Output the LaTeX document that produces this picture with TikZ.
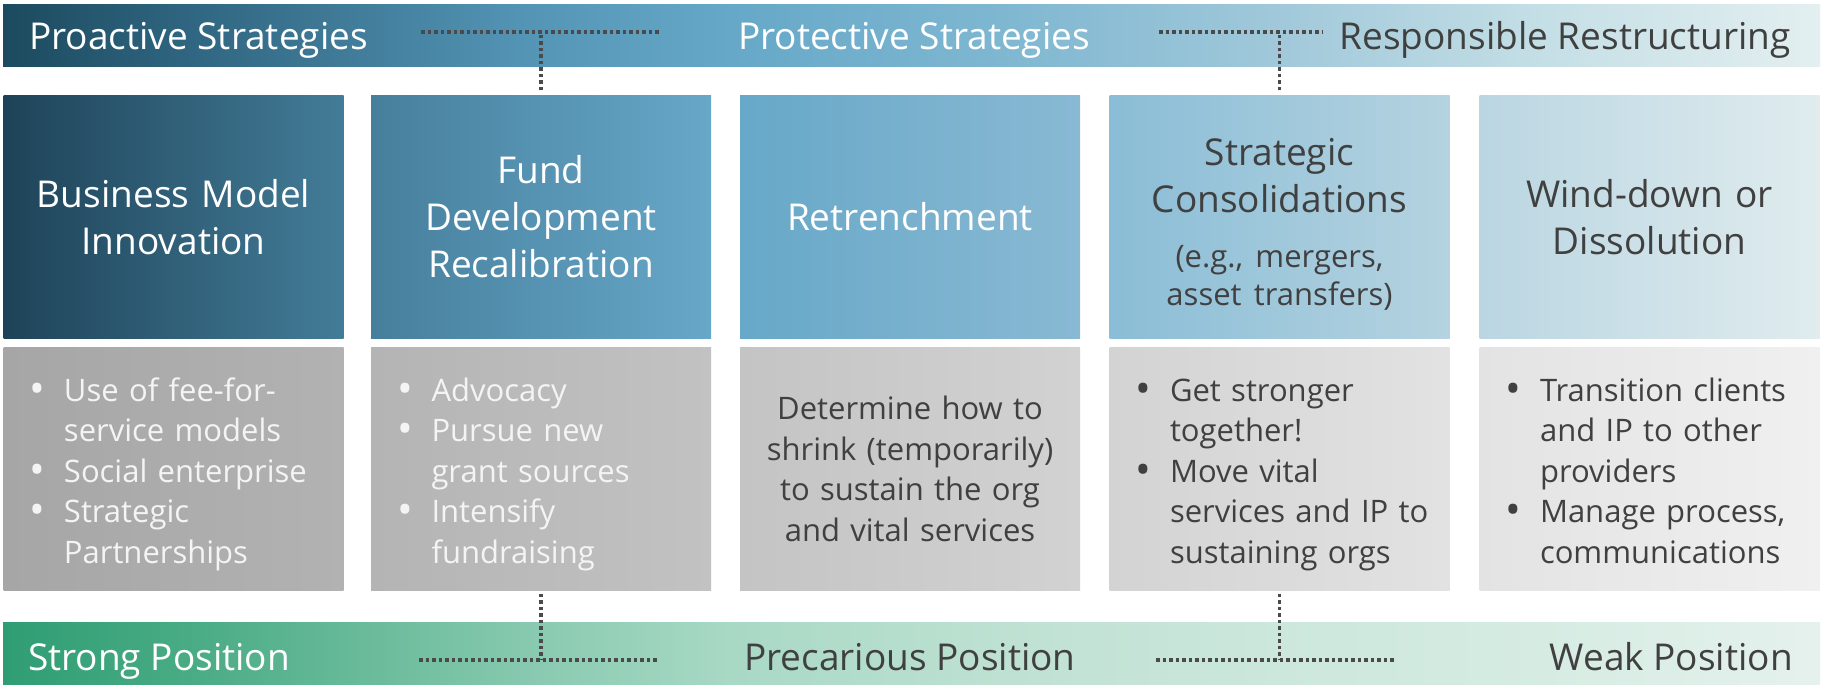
\documentclass[tikz,border=0pt]{standalone}
\usepackage{fontspec}
\setmainfont{Open Sans}
\definecolor{tb0}{HTML}{1C4A5E}\definecolor{tb1}{HTML}{2F6580}\definecolor{tb2}{HTML}{5697B8}
\definecolor{tb3}{HTML}{66A8C8}\definecolor{tb4}{HTML}{7FB7D1}\definecolor{tb5}{HTML}{A0C8DA}
\definecolor{tb6}{HTML}{C5DFE6}\definecolor{tb7}{HTML}{E3EFF0}
\definecolor{bb0}{HTML}{2F9D73}\definecolor{bb1}{HTML}{48AB84}\definecolor{bb2}{HTML}{8BCBB1}
\definecolor{bb3}{HTML}{A8D9C4}\definecolor{bb4}{HTML}{BEE1D2}\definecolor{bb5}{HTML}{CCE7DC}
\definecolor{bb6}{HTML}{D6ECE3}\definecolor{bb7}{HTML}{E5F1ED}
\definecolor{h1l}{HTML}{1E4358}\definecolor{h1r}{HTML}{437C98}
\definecolor{h2l}{HTML}{467F9C}\definecolor{h2r}{HTML}{67A7C8}
\definecolor{h3l}{HTML}{67A8C8}\definecolor{h3r}{HTML}{89B9D3}
\definecolor{h4l}{HTML}{8ABDD6}\definecolor{h4r}{HTML}{B5D3E0}
\definecolor{h5l}{HTML}{BAD6E2}\definecolor{h5r}{HTML}{E0ECEE}
\definecolor{c1l}{HTML}{A6A6A6}\definecolor{c1r}{HTML}{B2B2B2}
\definecolor{c2l}{HTML}{B4B4B4}\definecolor{c2r}{HTML}{C2C2C2}
\definecolor{c3l}{HTML}{C4C4C4}\definecolor{c3r}{HTML}{D2D2D2}
\definecolor{c4l}{HTML}{D3D3D3}\definecolor{c4r}{HTML}{E2E2E2}
\definecolor{c5l}{HTML}{E3E3E3}\definecolor{c5r}{HTML}{F0F0F0}
\definecolor{darktxt}{HTML}{404040}
\definecolor{lighttxt}{HTML}{F4F4F4}
\definecolor{dotc}{HTML}{4A4A4A}
\pgfdeclarehorizontalshading{topbarshade}{100bp}{color(0bp)=(tb0); color(25bp)=(tb0); color(30bp)=(tb1); color(40bp)=(tb2); color(45bp)=(tb3); color(52.5bp)=(tb4); color(60bp)=(tb5); color(67.5bp)=(tb6); color(75bp)=(tb7); color(100bp)=(tb7)}
\pgfdeclarehorizontalshading{botbarshade}{100bp}{color(0bp)=(bb0); color(25bp)=(bb0); color(30bp)=(bb1); color(40bp)=(bb2); color(45bp)=(bb3); color(52.5bp)=(bb4); color(60bp)=(bb5); color(67.5bp)=(bb6); color(75bp)=(bb7); color(100bp)=(bb7)}
\tikzset{
  bar/.style={minimum width=1817pt, minimum height=62pt, inner sep=0pt, shade},
  bartxt/.style={inner sep=0pt, font=\fontsize{37}{44}\selectfont},
  hdr/.style={minimum width=340pt, minimum height=243pt, inner sep=0pt, text width=330pt, align=center, font=\fontsize{37}{47}\selectfont},
  cnt/.style={minimum width=340pt, minimum height=243pt, inner sep=0pt, font=\fontsize{31}{40.5}\selectfont},
  blt/.style={cnt, text width=288pt, align=left},
  ctr/.style={cnt, text width=330pt, align=center},
  dotline/.style={draw=dotc, line width=3.5pt, dash pattern=on 3.5pt off 3pt},
}
\newcommand{\bi}{\makebox[34.5pt][l]{\raisebox{-2.2pt}{\scalebox{1.35}{\textbullet}}}}
\newcommand{\bc}{\hspace*{34.5pt}}
\newcommand{\lowered}[1]{\raisebox{-5pt}[\height][\depth]{#1}}
\begin{document}
\begin{tikzpicture}[x=1pt,y=-1pt]
\useasboundingbox (0,0) rectangle (1824,688);
% bars
\node[bar, shading=topbarshade] (topbar) at (911.5,35) {};
\node[bar, shading=botbarshade, minimum height=61.5pt] (botbar) at (911.5,653.25) {};
\node[bartxt, anchor=base west, white] (proact) at (29,49.5) {Proactive Strategies};
\node[bartxt, anchor=base, white] (protect) at (914,49.5) {Protective Strategies};
\node[bartxt, anchor=base east, darktxt] (respons) at (1791,49.5) {Responsible Restructuring};
\node[bartxt, anchor=base west, white] (strong) at (28,670) {Strong Position};
\node[bartxt, anchor=base, darktxt] (precar) at (910,670) {Precarious Position};
\node[bartxt, anchor=base east, darktxt] (weak) at (1793,670) {Weak Position};
% headers
\node[hdr, left color=h1l, right color=h1r, text=white] (h1) at (173.5,217) {Business Model\\Innovation};
\node[hdr, left color=h2l, right color=h2r, text=white] (h2) at (541,217) {Fund\\Development\\Recalibration};
\node[hdr, left color=h3l, right color=h3r, text=white] (h3) at (910,217) {Retrenchment};
\node[hdr, left color=h4l, right color=h4r, text=darktxt] (h4) at (1279.5,217) {{\fontsize{37}{47}\selectfont \rule{0pt}{41pt}Strategic\\Consolidations\par}\vspace{17pt}{\fontsize{31}{38}\selectfont (e.g., mergers,\\asset transfers)\par}};
\node[hdr, left color=h5l, right color=h5r, text=darktxt] (h5) at (1649.5,217) {Wind-down or\\Dissolution};
% content
\node[blt, left color=c1l, right color=c1r, text=lighttxt] (c1) at (173.5,469) {\noindent\lowered{\begin{tabular}{@{}l@{}}\bi Use of fee-for-\\\bc service models\\\bi Social enterprise\\\bi Strategic\\\bc Partnerships\end{tabular}}};
\node[blt, left color=c2l, right color=c2r, text=lighttxt] (c2) at (541,469) {\noindent\lowered{\begin{tabular}{@{}l@{}}\bi Advocacy\\\bi Pursue new\\\bc grant sources\\\bi Intensify\\\bc fundraising\end{tabular}}};
\node[ctr, left color=c3l, right color=c3r, text=darktxt] (c3) at (910,469) {Determine how to\\shrink (temporarily)\\to sustain the org\\and vital services};
\node[blt, left color=c4l, right color=c4r, text=darktxt] (c4) at (1279.5,469) {\noindent\lowered{\begin{tabular}{@{}l@{}}\bi Get stronger\\\bc together!\\\bi Move vital\\\bc services and IP to\\\bc sustaining orgs\end{tabular}}};
\node[blt, left color=c5l, right color=c5r, text=darktxt] (c5) at (1649.5,469) {\noindent\lowered{\begin{tabular}{@{}l@{}}\bi Transition clients\\\bc and IP to other\\\bc providers\\\bi Manage process,\\\bc communications\end{tabular}}};
% dotted connectors
\coordinate (t1a) at (421,32); \coordinate (t1b) at (660,32);
\coordinate (t2a) at (1159,32); \coordinate (t2b) at (1323,32);
\coordinate (b1a) at (419,660); \coordinate (b1b) at (658,660);
\coordinate (b2a) at (1156,660); \coordinate (b2b) at (1396,660);
\draw[dotline] (t1a) -- (t1b);
\draw[dotline] (t2a) -- (t2b);
\draw[dotline] (b1a) -- (b1b);
\draw[dotline] (b2a) -- (b2b);
\draw[dotline] ([yshift=5pt]h2.north) -- (h2.north |- t1a);
\draw[dotline] ([yshift=5pt]h4.north) -- (h4.north |- t2a);
\draw[dotline] ([yshift=-3pt]c2.south) -- (c2.south |- b1a);
\draw[dotline] ([yshift=-3pt]c4.south) -- (c4.south |- b2a);
\end{tikzpicture}
\end{document}
